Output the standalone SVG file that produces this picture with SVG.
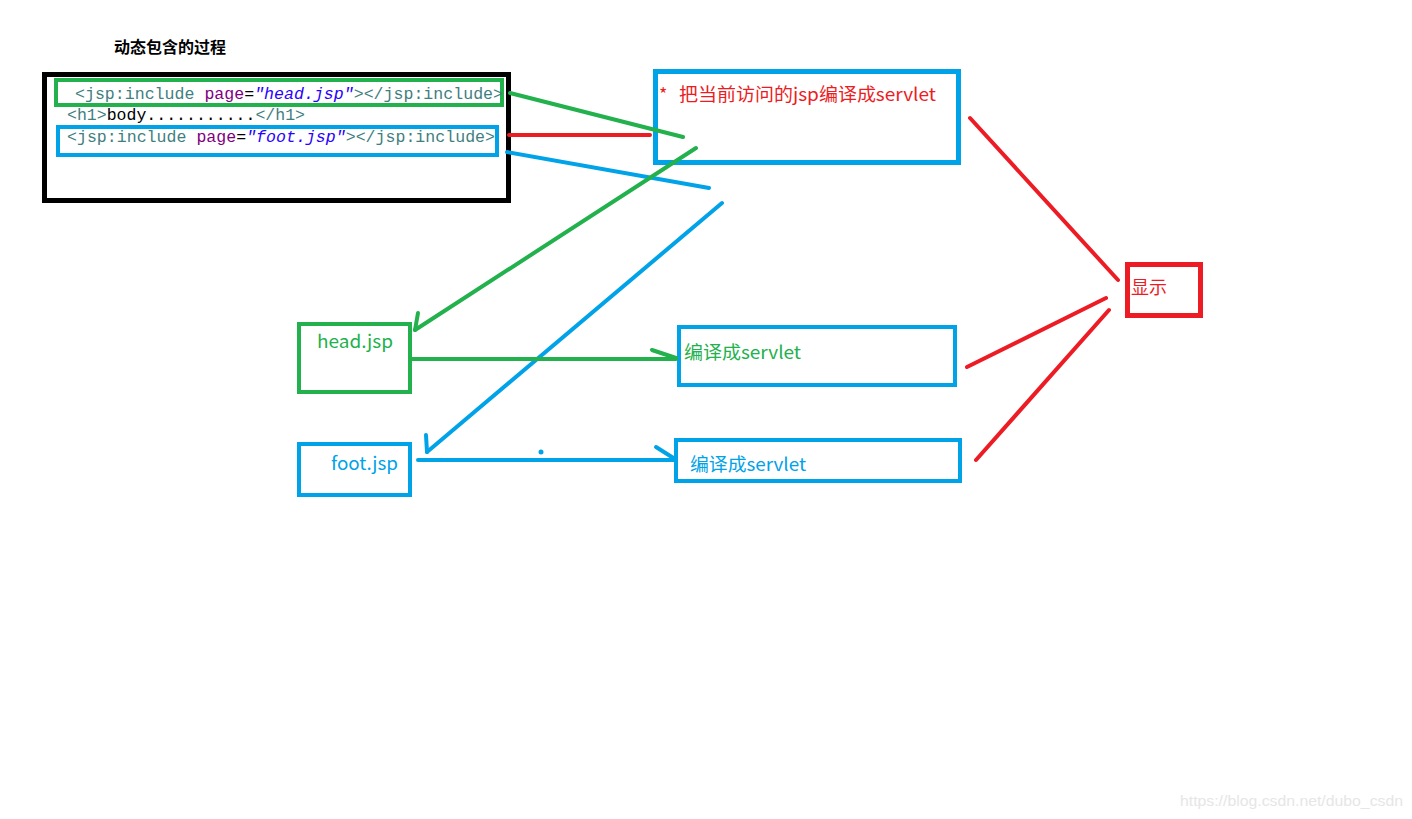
<svg xmlns="http://www.w3.org/2000/svg" width="1412" height="819" viewBox="0 0 1412 819">
<style>
.g{stroke:#22b14c}.b{stroke:#00a2e8}.r{stroke:#ed1c24}.k{stroke:#000}
.box{fill:none;stroke-width:4}
.ln{fill:none;stroke-width:4;stroke-linecap:round;stroke-linejoin:round}
.code{font-family:"Liberation Mono","DejaVu Sans Mono",monospace;font-size:16.5px}
.tag{fill:#3f7f7f}.attr{fill:#7f007f}.val{fill:#2a00ff;font-style:italic}.txt{fill:#000}
.cn{font-family:"Noto Sans CJK SC","Microsoft YaHei",sans-serif;font-size:18px}
</style>
<rect width="1412" height="819" fill="#fff"/>
<g id="title"><text x="114" y="53" font-family="'Noto Sans CJK SC',sans-serif" font-size="15.5" font-weight="bold" fill="#000" textLength="112" lengthAdjust="spacingAndGlyphs">动态包含的过程</text></g>
<g id="code">
<rect x="44.5" y="74.5" width="464" height="126" fill="none" stroke="#000" stroke-width="5"/>
<rect class="box g" x="56" y="80" width="446" height="25"/>
<rect class="box b" x="58" y="127" width="439" height="28"/>
<text class="code" x="75" y="99" textLength="428" lengthAdjust="spacingAndGlyphs"><tspan class="tag">&lt;jsp:include </tspan><tspan class="attr">page</tspan><tspan class="txt">=</tspan><tspan class="val">"head.jsp"</tspan><tspan class="tag">&gt;&lt;/jsp:include&gt;</tspan></text>
<text class="code" x="67" y="120" textLength="238" lengthAdjust="spacingAndGlyphs"><tspan class="tag">&lt;h1&gt;</tspan><tspan class="txt">body...........</tspan><tspan class="tag">&lt;/h1&gt;</tspan></text>
<text class="code" x="67" y="142" textLength="428" lengthAdjust="spacingAndGlyphs"><tspan class="tag">&lt;jsp:include </tspan><tspan class="attr">page</tspan><tspan class="txt">=</tspan><tspan class="val">"foot.jsp"</tspan><tspan class="tag">&gt;&lt;/jsp:include&gt;</tspan></text>
</g>
<g id="compile">
<rect x="655.5" y="71.5" width="303" height="91" fill="none" stroke="#00a2e8" stroke-width="5"/>
<text class="cn" x="659" y="101" fill="#ed1c24" font-size="17">*</text>
<text class="cn" x="679" y="101" fill="#ed1c24" textLength="257" lengthAdjust="spacingAndGlyphs">把当前访问的jsp编译成servlet</text>
</g>
<g id="head">
<rect class="box g" x="299" y="324" width="111" height="68"/>
<text class="cn" x="317" y="348" fill="#22b14c" textLength="76" lengthAdjust="spacingAndGlyphs">head.jsp</text>
</g>
<g id="foot">
<rect class="box b" x="299" y="444" width="111" height="51"/>
<text class="cn" x="331" y="470" fill="#00a2e8" textLength="67" lengthAdjust="spacingAndGlyphs">foot.jsp</text>
</g>
<g id="servlet1">
<rect class="box b" x="679" y="327" width="276" height="58"/>
<text class="cn" x="684" y="359" fill="#22b14c" textLength="117" lengthAdjust="spacingAndGlyphs">编译成servlet</text>
</g>
<g id="servlet2">
<rect class="box b" x="676" y="440" width="284" height="41"/>
<text class="cn" x="690" y="471" fill="#00a2e8" textLength="116" lengthAdjust="spacingAndGlyphs">编译成servlet</text>
</g>
<g id="show">
<rect x="1127.5" y="264.5" width="73" height="51" fill="none" stroke="#ed1c24" stroke-width="5"/>
<text class="cn" x="1131" y="294" font-size="19" fill="#ed1c24">显示</text>
</g>
<g id="connectors">
<line class="ln g" x1="510" y1="93" x2="683" y2="137"/>
<line class="ln r" x1="509" y1="135" x2="650" y2="135"/>
<line class="ln b" x1="507" y1="152" x2="709" y2="188"/>
<line class="ln g" x1="696" y1="148" x2="415" y2="330"/>
<polyline class="ln g" points="418,313 415,330"/>
<line class="ln b" x1="722" y1="203" x2="427" y2="452"/>
<polyline class="ln b" points="426,435 427,452"/>
<line class="ln g" x1="411" y1="359" x2="676" y2="359"/>
<line class="ln g" x1="652" y1="350" x2="676" y2="358"/>
<line class="ln b" x1="418" y1="460" x2="675" y2="460"/>
<line class="ln b" x1="656" y1="447" x2="675" y2="459"/>
<circle cx="541" cy="452" r="2.5" fill="#00a2e8"/>
<line class="ln r" x1="970" y1="118" x2="1118" y2="280"/>
<line class="ln r" x1="967" y1="367" x2="1106" y2="298"/>
<line class="ln r" x1="976" y1="460" x2="1109" y2="310"/>
</g>
<text x="1180" y="806" font-family="'Liberation Sans',sans-serif" font-size="14" fill="#e6e6e6" textLength="223" lengthAdjust="spacingAndGlyphs">https://blog.csdn.net/dubo_csdn</text>
</svg>
